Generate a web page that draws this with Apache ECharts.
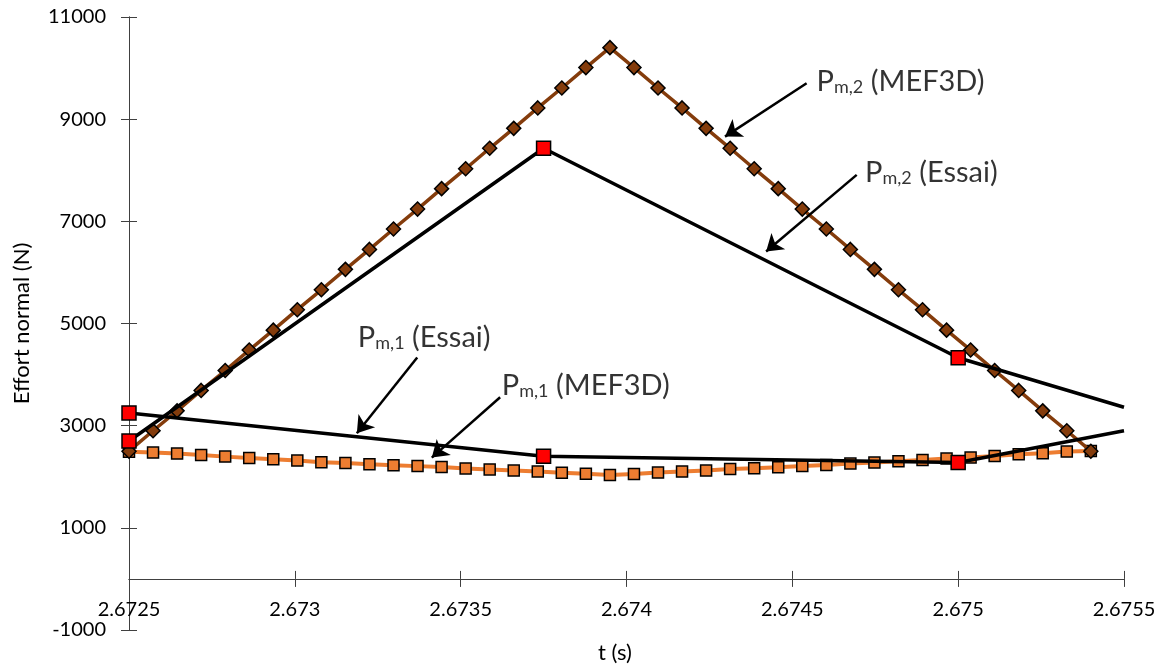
<!DOCTYPE html>
<html>
<head>
<meta charset="utf-8">
<script src="https://cdn.jsdelivr.net/npm/echarts@6/dist/echarts.min.js"></script>
<style>
html,body{margin:0;padding:0;background:#fff;}
#chart{width:1163px;height:666px;}
</style>
</head>
<body>
<div id="chart"></div>
<script>
// ---- data ----
var tMef = [2.6725, 2.6725725, 2.672645, 2.6727175, 2.67279, 2.6728625, 2.672935, 2.6730075, 2.67308, 2.6731525,
  2.673225, 2.6732975, 2.67337, 2.6734425, 2.673515, 2.6735875, 2.67366, 2.6737325, 2.673805, 2.6738775,
  2.67395, 2.6740225, 2.674095, 2.6741675, 2.67424, 2.6743125, 2.674385, 2.6744575, 2.67453, 2.6746025,
  2.674675, 2.6747475, 2.67482, 2.6748925, 2.674965, 2.6750375, 2.67511, 2.6751825, 2.675255, 2.6753275, 2.6754];
var pm2Mef = [2500, 2900, 3290, 3690, 4080, 4480, 4870, 5270, 5660, 6060,
  6450, 6850, 7240, 7640, 8030, 8430, 8820, 9220, 9610, 10010,
  10400, 10010, 9610, 9220, 8820, 8430, 8030, 7640, 7240, 6850,
  6450, 6060, 5660, 5270, 4870, 4480, 4080, 3690, 3290, 2900, 2500];
var pm1Mef = [2490, 2473, 2453, 2428, 2394, 2369, 2343, 2316, 2285, 2267,
  2247, 2226, 2208, 2189, 2163, 2144, 2120, 2101, 2079, 2061,
  2036, 2056, 2081, 2101, 2120, 2150, 2167, 2187, 2212, 2232,
  2257, 2277, 2304, 2330, 2355, 2375, 2408, 2441, 2461, 2492, 2506];
var tEssai = [2.6725, 2.67375, 2.675, 2.6755];
var pm2Essai = [2700, 8430, 4330, 3360];
var pm1Essai = [3250, 2400, 2280, 2900];
var essaiMarked = [true, true, true, false];
var xTicks = [2.6725, 2.673, 2.6735, 2.674, 2.6745, 2.675, 2.6755];
var yTicks = [-1000, 1000, 3000, 5000, 7000, 9000, 11000];
// annotations: [sub, rest, textX, textY, arrowStartX, arrowStartY, arrowTipX, arrowTipY]
var annotations = [
  ['m,2', ' (MEF3D)', 2.674573, 9783, 2.674543, 9704, 2.674297, 8659],
  ['m,2', ' (Essai)', 2.674719, 8007, 2.674694, 7909, 2.674421, 6408],
  ['m,1', ' (Essai)', 2.673190, 4777, 2.673369, 4333, 2.673187, 2852],
  ['m,1', ' (MEF3D)', 2.673624, 3831, 2.673619, 3557, 2.673413, 2375]
];

function zip(xs, ys) { return xs.map(function (x, i) { return [x, ys[i]]; }); }
function essaiData(ys) {
  return tEssai.map(function (x, i) {
    var d = { value: [x, ys[i]] };
    if (!essaiMarked[i]) d.symbol = 'none';
    return d;
  });
}

var FONT = 'Lato';
var axisColor = '#404040';
function fmtX(v) { return String(parseFloat(v.toFixed(4))); }
function fmtY(v) { return String(Math.round(v)); }

var chart = echarts.init(document.getElementById('chart'), null, { renderer: 'canvas' });
var option = {
  backgroundColor: '#ffffff',
  animation: false,
  textStyle: { fontFamily: FONT },
  grid: { left: 129, right: 39, top: 17, bottom: 36, containLabel: false, outerBoundsMode: 'none' },
  xAxis: [{
    type: 'value', min: xTicks[0], max: xTicks[xTicks.length - 1], interval: 0.0005,
    name: 't (s)', nameLocation: 'middle', nameGap: 12, nameMoveOverlap: false,
    nameTextStyle: { fontFamily: FONT, fontSize: 22, color: '#000', padding: [0, 23, 0, 0] },
    axisLine: { onZero: true, lineStyle: { color: axisColor, width: 1 } },
    axisTick: { show: true, length: 8, lineStyle: { color: axisColor } },
    axisLabel: { fontFamily: FONT, fontSize: 20, color: '#000', margin: -30, formatter: fmtX },
    splitLine: { show: false }
  }, {
    type: 'value', min: xTicks[0], max: xTicks[xTicks.length - 1], interval: 0.0005,
    position: 'bottom',
    axisLine: { onZero: true, onZeroAxisIndex: 0, lineStyle: { color: axisColor, width: 1 } },
    axisTick: { show: true, inside: true, length: 8, lineStyle: { color: axisColor } },
    axisLabel: { show: false },
    splitLine: { show: false }
  }],
  yAxis: [{
    type: 'value', min: yTicks[0], max: yTicks[yTicks.length - 1], interval: 2000,
    name: 'Effort normal (N)', nameLocation: 'middle', nameGap: 96,
    nameTextStyle: { fontFamily: FONT, fontSize: 22, color: '#000' },
    axisLine: { show: true, onZero: false, lineStyle: { color: axisColor, width: 1 } },
    axisTick: { show: true, length: 8, lineStyle: { color: axisColor } },
    axisLabel: { fontFamily: FONT, fontSize: 20, color: '#000', margin: 23, formatter: fmtY },
    splitLine: { show: false }
  }, {
    type: 'value', min: yTicks[0], max: yTicks[yTicks.length - 1], interval: 2000,
    position: 'left',
    axisLine: { show: true, onZero: false, lineStyle: { color: axisColor, width: 1 } },
    axisTick: { show: true, inside: true, length: 8, lineStyle: { color: axisColor } },
    axisLabel: { show: false },
    splitLine: { show: false }
  }],
  series: [
    {
      name: 'Pm,1 (MEF3D)', type: 'line', data: zip(tMef, pm1Mef),
      symbol: 'rect', symbolSize: 11, showAllSymbol: true,
      lineStyle: { color: '#ED7D31', width: 4 },
      itemStyle: { color: '#ED7D31', borderColor: '#000', borderWidth: 1.5 },
      z: 2
    },
    {
      name: 'Pm,2 (MEF3D)', type: 'line', data: zip(tMef, pm2Mef),
      symbol: 'diamond', symbolSize: 14, showAllSymbol: true,
      lineStyle: { color: '#843C0C', width: 3.5 },
      itemStyle: { color: '#843C0C', borderColor: '#000', borderWidth: 1.5 },
      z: 3
    },
    {
      name: 'Pm,1 (Essai)', type: 'line', data: essaiData(pm1Essai),
      symbol: 'rect', symbolSize: 14, showAllSymbol: true,
      lineStyle: { color: '#000', width: 3.5 },
      itemStyle: { color: '#FF0000', borderColor: '#000', borderWidth: 1.5 },
      z: 4
    },
    {
      name: 'Pm,2 (Essai)', type: 'line', data: essaiData(pm2Essai),
      symbol: 'rect', symbolSize: 14, showAllSymbol: true,
      lineStyle: { color: '#000', width: 3.5 },
      itemStyle: { color: '#FF0000', borderColor: '#000', borderWidth: 1.5 },
      z: 4
    },
    {
      name: 'annotations', type: 'scatter', symbolSize: 0, silent: true, z: 6,
      data: annotations.map(function (a) { return { value: [a[2], a[3]], sub: a[0], rest: a[1] }; }),
      label: {
        show: true, position: 'right', distance: 0,
        formatter: function (p) { return '{p|P}{s|' + p.data.sub + '}{t|' + p.data.rest + '}'; },
        rich: {
          p: { fontFamily: FONT, fontSize: 29, color: '#000', verticalAlign: 'bottom', lineHeight: 34 },
          s: { fontFamily: FONT, fontSize: 18, color: '#000', verticalAlign: 'bottom', lineHeight: 34 },
          t: { fontFamily: FONT, fontSize: 29, color: '#000', verticalAlign: 'bottom', lineHeight: 34 }
        }
      },
      markLine: {
        silent: true, symbol: ['none', 'arrow'], symbolSize: 16,
        label: { show: false },
        lineStyle: { color: '#000', width: 2.5, type: 'solid' },
        itemStyle: { color: '#000' },
        data: annotations.map(function (a) {
          return [{ coord: [a[4], a[5]] }, { coord: [a[6], a[7]] }];
        })
      }
    }
  ]
};
chart.setOption(option);
</script>
</body>
</html>
